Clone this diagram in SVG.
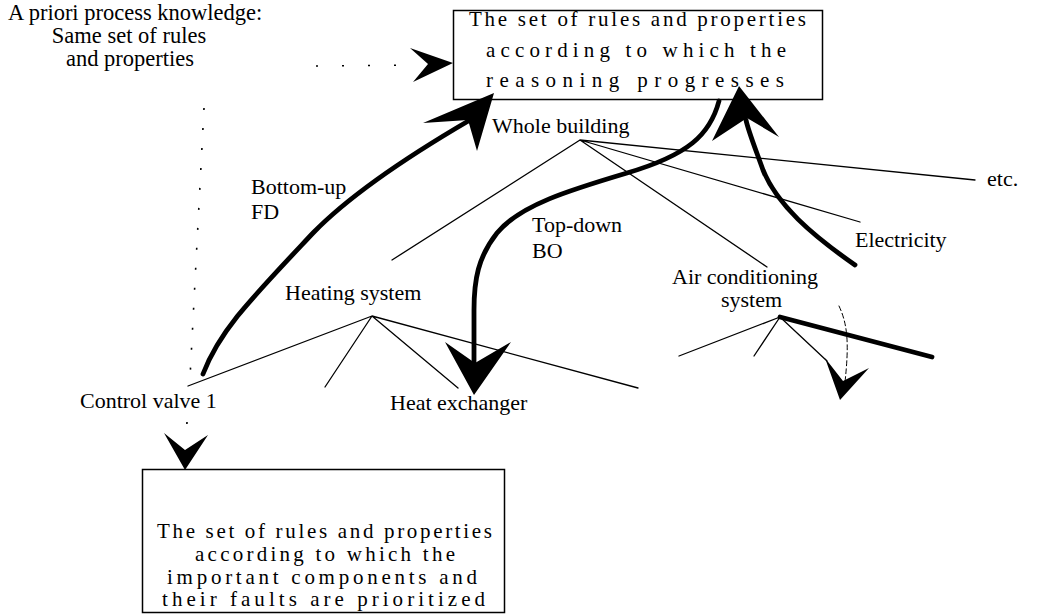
<svg xmlns="http://www.w3.org/2000/svg" width="1047" height="616" viewBox="0 0 1047 616">
<style>
.lbl{font-family:"Liberation Serif","Times New Roman",serif;font-size:22px;fill:#000}
.kn{font-family:"Liberation Serif","Times New Roman",serif;font-size:22.5px;fill:#000}
.box{fill:#fff;stroke:#000;stroke-width:1.5}
.bt{font-family:"Liberation Serif","Times New Roman",serif;font-size:21px;fill:#000}
.thin{stroke:#000;stroke-width:1.3;fill:none;stroke-linecap:round}
.thick{stroke:#000;stroke-width:4.8;fill:none;stroke-linecap:round}
.dot{stroke:#000;stroke-width:1.6;fill:none;stroke-dasharray:2 18}
.head{fill:#000;stroke:none}
</style>
<rect width="1047" height="616" fill="#fff"/>

<g id="knowledge">
<text class="kn" x="8" y="20">A priori process knowledge:</text>
<text class="kn" x="129" y="43" text-anchor="middle">Same set of rules</text>
<text class="kn" x="130" y="66" text-anchor="middle">and properties</text>
</g>

<g id="reasoning-box">
<rect class="box" x="453.5" y="10.5" width="369" height="89"/>
<text class="bt" x="469" y="26" textLength="337" lengthAdjust="spacing">The set of rules and properties</text>
<text class="bt" x="486" y="57" textLength="300" lengthAdjust="spacing">according to which the</text>
<text class="bt" x="486" y="87" textLength="298" lengthAdjust="spacing">reasoning progresses</text>
</g>

<g id="priority-box">
<rect class="box" x="142.5" y="469.5" width="362" height="143"/>
<text class="bt" x="157" y="538" textLength="335" lengthAdjust="spacing">The set of rules and properties</text>
<text class="bt" x="195" y="561" textLength="260" lengthAdjust="spacing">according to which the</text>
<text class="bt" x="167" y="584" textLength="310" lengthAdjust="spacing">important components and</text>
<text class="bt" x="162" y="606" textLength="323" lengthAdjust="spacing">their faults are prioritized</text>
</g>

<g id="whole-building"><text class="lbl" x="492" y="133">Whole building</text></g>
<g id="heating-system"><text class="lbl" x="285" y="300">Heating system</text></g>
<g id="air-conditioning"><text class="lbl" x="672" y="284">Air conditioning</text><text class="lbl" x="721" y="307">system</text></g>
<g id="electricity"><text class="lbl" x="855" y="247">Electricity</text></g>
<g id="etc"><text class="lbl" x="987" y="186">etc.</text></g>
<g id="control-valve"><text class="lbl" x="80" y="408">Control valve 1</text></g>
<g id="heat-exchanger"><text class="lbl" x="390" y="410">Heat exchanger</text></g>
<g id="bottom-up-label"><text class="lbl" x="251" y="194">Bottom-up</text><text class="lbl" x="251" y="219">FD</text></g>
<g id="top-down-label"><text class="lbl" x="532" y="232">Top-down</text><text class="lbl" x="532" y="258">BO</text></g>

<g id="connectors">
<!-- tree: whole building -->
<path class="thin" d="M580,140 L392,260 M580,140 L767,267 M580,140 L860,222 M580,140 L975,180"/>
<!-- tree: heating system -->
<path class="thin" d="M372,316 L188,386 M372,316 L325,387 M372,316 L458,388 M372,316 L638,388"/>
<!-- tree: air conditioning -->
<path class="thin" d="M780,317 L679,356 M780,317 L754,356 M780,317 L827,361"/>
<path class="thick" d="M780,317 L932,357"/>

<!-- dotted: a priori knowledge -->
<path class="dot" d="M316,66 L420,65" style="stroke-dasharray:2 24"/>
<polygon class="head" points="453,63 410,48 428,64 413,82"/>
<path class="dot" d="M204,108 L190,378"/>
<path class="dot" d="M187,422 L186,440" style="stroke-dasharray:2 30"/>
<polygon class="head" points="185,470 164,433 185,450 208,435"/>

<!-- bottom-up FD -->
<path class="thick" d="M203,374 C220,330 250,300 313,233 C350,195 410,155 470,120"/>
<polygon class="head" points="494,93 423,123 468,120 477,151"/>

<!-- top-down BO -->
<path class="thick" d="M719,101 C710,135 688,155 627,173 C570,190 520,205 497,233 C478,257 474,280 474,310 L474,365"/>
<polygon class="head" points="474,395 445,342 475,363 511,342"/>

<!-- electricity upward -->
<path class="thick" d="M855,265 C812,235 777,205 763,170 C754,145 748,130 746,120"/>
<polygon class="head" points="739,86 712,141 747,118 779,137"/>

<!-- air conditioning dashed -->
<path class="thin" d="M839,306 C848,325 849,345 845,382" style="stroke-width:1;stroke-dasharray:5 3"/>
<polygon class="head" points="840,400 825,358 843,381 869,368"/>
</g>
</svg>
